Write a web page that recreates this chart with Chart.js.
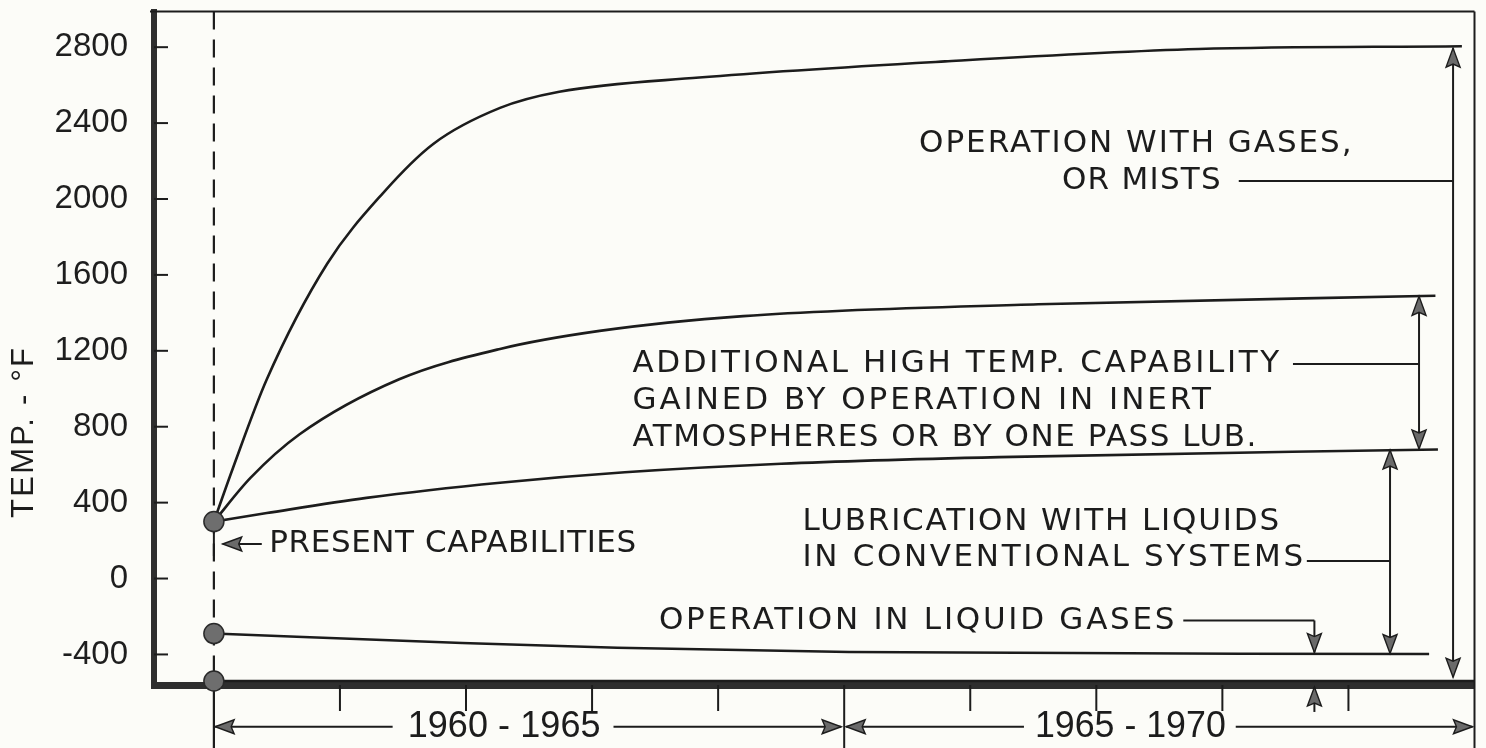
<!DOCTYPE html>
<html>
<head>
<meta charset="utf-8">
<title>Bearing lubrication temperature capability</title>
<script src="https://cdn.jsdelivr.net/npm/chart.js@4/dist/chart.umd.min.js"></script>
<style>
  html, body { margin: 0; padding: 0; background: #fcfcf8; }
  canvas { display: block; }
</style>
</head>
<body>
<canvas id="tempChart" width="1486" height="748"></canvas>
<script>
// values (year, deg F)
const gasMistYears = [1960, 1960.15, 1960.42, 1960.9, 1961.34, 1961.74, 1962.27, 1962.74, 1963.85, 1965.8, 1967.81, 1969.9];
const gasMistTemps = [300, 580, 1050, 1660, 2030, 2290, 2480, 2565, 2640, 2725, 2790, 2805];

const inertYears = [1960, 1960.29, 1960.68, 1961.47, 1962.27, 1963.06, 1964.2, 1966.54, 1969.69];
const inertTemps = [300, 530, 760, 1050, 1210, 1305, 1383, 1445, 1490];

const liquidYears = [1960, 1960.42, 1961.21, 1962.27, 1963.26, 1964.5, 1966.23, 1969.71];
const liquidTemps = [300, 345, 425, 505, 560, 605, 640, 680];

const liquidGasYears = [1960, 1961.97, 1963.2, 1965.04, 1969.64];
const liquidGasTemps = [-290, -340, -365, -387, -398];

const lowestYears = [1960, 1970];
const lowestTemps = [-540, -540];

const yTicks = [-400, 0, 400, 800, 1200, 1600, 2000, 2400, 2800];
const xTicks = [1961, 1962, 1963, 1964, 1965, 1966, 1967, 1968, 1969];

const INK = '#1c1c1c';
const ARROW_FILL = '#6a6a6a';

function toPoints(xs, ys) {
    return xs.map((x, i) => ({ x: x, y: ys[i] }));
}

function curve(xs, ys, dot) {
    return {
        data: toPoints(xs, ys),
        borderColor: INK,
        borderWidth: 2.6,
        cubicInterpolationMode: 'monotone',
        pointRadius: xs.map((_, i) => (dot && i === 0) ? 10 : 0),
        pointBackgroundColor: '#6e6e6e',
        pointBorderColor: '#2a2a2a',
        pointBorderWidth: 1.5,
        clip: false
    };
}

// annotation text, placed in data units
const notes = [
    { text: 'OPERATION WITH GASES,', x0: 1965.594, x1: 1969.025, t: 2292, font: 'DejaVu Sans', size: 31 },
    { text: 'OR MISTS', x0: 1966.727, x1: 1967.987, t: 2093, font: 'DejaVu Sans', size: 31 },
    { text: 'ADDITIONAL HIGH TEMP. CAPABILITY', x0: 1963.32, x1: 1968.45, t: 1130, font: 'DejaVu Sans', size: 31 },
    { text: 'GAINED BY OPERATION IN INERT', x0: 1963.32, x1: 1967.91, t: 936, font: 'DejaVu Sans', size: 31 },
    { text: 'ATMOSPHERES OR BY ONE PASS LUB.', x0: 1963.32, x1: 1968.27, t: 742, font: 'DejaVu Sans', size: 31 },
    { text: 'LUBRICATION WITH LIQUIDS', x0: 1964.67, x1: 1968.45, t: 297, font: 'DejaVu Sans', size: 31 },
    { text: 'IN CONVENTIONAL SYSTEMS', x0: 1964.67, x1: 1968.64, t: 109, font: 'DejaVu Sans', size: 31 },
    { text: 'OPERATION IN LIQUID GASES', x0: 1963.53, x1: 1967.62, t: -226, font: 'DejaVu Sans', size: 31 },
    { text: 'PRESENT CAPABILITIES', x0: 1960.44, x1: 1963.35, t: 182, font: 'DejaVu Sans', size: 31 },
    { text: '1960 - 1965', x0: 1961.537, x1: 1963.067, t: -781, font: 'Liberation Sans', size: 36 },
    { text: '1965 - 1970', x0: 1966.513, x1: 1968.027, t: -781, font: 'Liberation Sans', size: 36 }
];

// text stretched or squeezed to the width it takes in the original
function fitText(ctx, text, x0, x1, y, font, size) {
    ctx.save();
    ctx.font = size + 'px "' + font + '"';
    ctx.letterSpacing = '0px';
    ctx.fillStyle = INK;
    ctx.textBaseline = 'middle';
    ctx.textAlign = 'left';
    const w = ctx.measureText(text).width;
    const target = x1 - x0;
    if (target >= w) {
        ctx.letterSpacing = ((target - w) / (text.length - 1)) + 'px';
        ctx.fillText(text, x0, y);
    } else {
        ctx.translate(x0, y);
        ctx.scale(target / w, 1);
        ctx.fillText(text, 0, 0);
    }
    ctx.restore();
}

function arrowHead(ctx, x, y, dir) {
    const len = 19, half = 7;
    ctx.save();
    ctx.translate(x, y);
    const rot = { up: 0, right: Math.PI / 2, down: Math.PI, left: -Math.PI / 2 }[dir];
    ctx.rotate(rot);
    ctx.beginPath();
    ctx.moveTo(0, 0);
    ctx.lineTo(half, len);
    ctx.lineTo(0, len - 3);
    ctx.lineTo(-half, len);
    ctx.closePath();
    ctx.fillStyle = ARROW_FILL;
    ctx.fill();
    ctx.lineWidth = 1.4;
    ctx.strokeStyle = INK;
    ctx.stroke();
    ctx.restore();
}

function line(ctx, x1, y1, x2, y2, w) {
    ctx.beginPath();
    ctx.moveTo(x1, y1);
    ctx.lineTo(x2, y2);
    ctx.lineWidth = w || 2;
    ctx.strokeStyle = INK;
    ctx.stroke();
}

const paperPlugin = {
    id: 'paper',
    beforeDraw(chart) {
        const ctx = chart.ctx;
        ctx.save();
        ctx.fillStyle = '#fcfcf8';
        ctx.fillRect(0, 0, chart.width, chart.height);
        ctx.restore();
    },
    beforeDatasetsDraw(chart) {
        const ctx = chart.ctx;
        const X = v => chart.scales.x.getPixelForValue(v);
        const area = chart.chartArea;
        ctx.save();
        // present-day line, dashed inside the frame and solid below it
        ctx.setLineDash([18, 10]);
        line(ctx, X(1960), area.top, X(1960), area.bottom, 2.2);
        ctx.setLineDash([]);
        line(ctx, X(1960), area.bottom, X(1960), chart.height, 2.2);
        ctx.restore();
    },
    afterDatasetsDraw(chart) {
        const ctx = chart.ctx;
        const X = v => chart.scales.x.getPixelForValue(v);
        const Y = v => chart.scales.y.getPixelForValue(v);
        const area = chart.chartArea;
        ctx.save();

        // frame top and right
        line(ctx, area.left - 4, area.top, area.right, area.top, 2);
        line(ctx, area.right, area.top, area.right, chart.height, 2);

        // y ticks point into the plot
        yTicks.forEach(v => line(ctx, area.left, Y(v), area.left + 14, Y(v), 2));

        // x ticks hang below the axis
        xTicks.forEach(v => {
            const end = v === 1965 ? chart.height : area.bottom + 26;
            line(ctx, X(v), area.bottom, X(v), end, 2);
        });

        // gases or mists bracket
        line(ctx, X(1969.83), Y(2795), X(1969.83), Y(-520), 2);
        arrowHead(ctx, X(1969.83), Y(2795), 'up');
        arrowHead(ctx, X(1969.83), Y(-520), 'down');
        line(ctx, X(1968.13), Y(2095), X(1969.83), Y(2095), 2);

        // inert atmosphere bracket
        line(ctx, X(1969.56), Y(1487), X(1969.56), Y(683), 2);
        arrowHead(ctx, X(1969.56), Y(1487), 'up');
        arrowHead(ctx, X(1969.56), Y(683), 'down');
        line(ctx, X(1968.56), Y(1130), X(1969.56), Y(1130), 2);

        // conventional liquids bracket
        line(ctx, X(1969.33), Y(677), X(1969.33), Y(-395), 2);
        arrowHead(ctx, X(1969.33), Y(677), 'up');
        arrowHead(ctx, X(1969.33), Y(-395), 'down');
        line(ctx, X(1968.67), Y(93), X(1969.33), Y(93), 2);

        // liquid gases pointer
        line(ctx, X(1967.69), Y(-221), X(1968.73), Y(-221), 2);
        line(ctx, X(1968.73), Y(-221), X(1968.73), Y(-390), 2);
        arrowHead(ctx, X(1968.73), Y(-390), 'down');
        line(ctx, X(1968.73), Y(-572), X(1968.73), Y(-703), 2);
        arrowHead(ctx, X(1968.73), Y(-572), 'up');

        // present capabilities pointer
        line(ctx, X(1960.07), Y(182), X(1960.38), Y(182), 2);
        arrowHead(ctx, X(1960.07), Y(182), 'left');
        line(ctx, X(1960), Y(182) - 12, X(1960), Y(182) + 12, 2);

        // time span arrows under the axis
        const yb = Y(-781);
        line(ctx, X(1960.01), yb, X(1961.418), yb, 2);
        arrowHead(ctx, X(1960.01), yb, 'left');
        line(ctx, X(1963.17), yb, X(1964.976), yb, 2);
        arrowHead(ctx, X(1964.976), yb, 'right');
        line(ctx, X(1965.016), yb, X(1966.426), yb, 2);
        arrowHead(ctx, X(1965.016), yb, 'left');
        line(ctx, X(1968.106), yb, X(1969.984), yb, 2);
        arrowHead(ctx, X(1969.984), yb, 'right');

        notes.forEach(n => fitText(ctx, n.text, X(n.x0), X(n.x1), Y(n.t), n.font, n.size));

        // axis title, rotated
        ctx.translate(24, 433);
        ctx.rotate(-Math.PI / 2);
        fitText(ctx, 'TEMP. - \u00b0F', -85, 85, 0, 'Liberation Sans', 31);
        ctx.restore();
    }
};

const ctx = document.getElementById('tempChart').getContext('2d');

const tempChart = new Chart(ctx, {
    type: 'line',
    data: {
        datasets: [
            curve(lowestYears, lowestTemps, true),
            curve(liquidGasYears, liquidGasTemps, true),
            curve(liquidYears, liquidTemps, true),
            curve(inertYears, inertTemps, false),
            curve(gasMistYears, gasMistTemps, false)
        ]
    },
    options: {
        responsive: false,
        animation: false,
        layout: {
            padding: { top: 7, right: 10, left: 0, bottom: 0 }
        },
        plugins: {
            legend: { display: false },
            tooltip: { enabled: false }
        },
        scales: {
            x: {
                type: 'linear',
                min: 1959.525,
                max: 1970,
                ticks: { display: false },
                grid: { display: false, drawTicks: false },
                border: { display: true, width: 7, color: '#2e2e2e' },
                afterFit: s => {
                    s.height = 63;
                    s.paddingLeft = 0;
                    s.paddingRight = 0;
                }
            },
            y: {
                type: 'linear',
                min: -561,
                max: 2988,
                afterBuildTicks: s => { s.ticks = yTicks.map(v => ({ value: v })); },
                ticks: {
                    padding: 26,
                    color: '#1e1e1e',
                    font: { family: 'Liberation Sans', size: 33 },
                    callback: v => String(v)
                },
                grid: { display: false, drawTicks: false },
                border: { display: true, width: 6, color: '#2e2e2e' },
                afterFit: s => {
                    s.width = 154;
                    s.paddingTop = 0;
                    s.paddingBottom = 0;
                }
            }
        }
    },
    plugins: [paperPlugin]
});
</script>
</body>
</html>
